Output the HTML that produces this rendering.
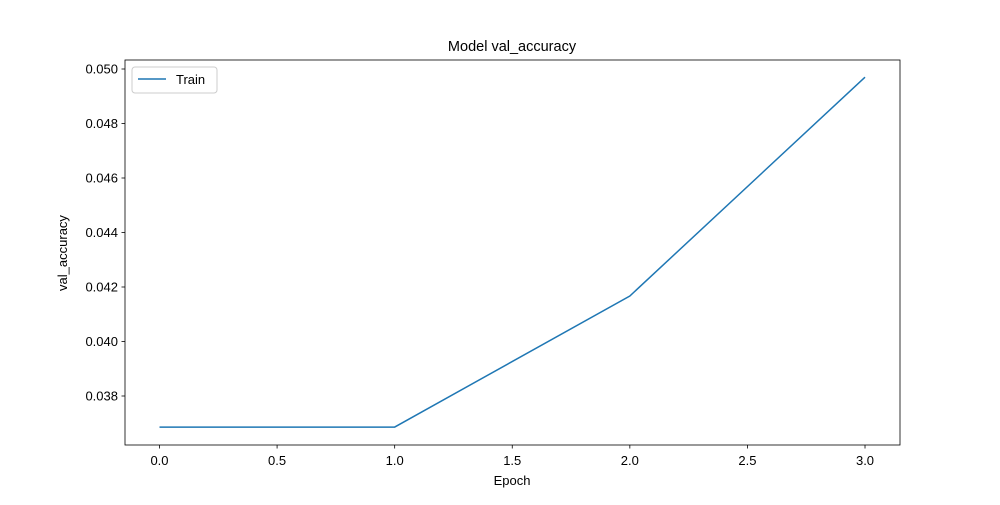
<!DOCTYPE html>
<html><head><meta charset="utf-8"><style>
body{margin:0;background:#fff;}
svg text{font-family:"Liberation Sans","DejaVu Sans",sans-serif;fill:#000;}
</style></head><body>
<svg id="chart" width="1000" height="500" viewBox="0 0 1000 500">
<rect width="1000" height="500" fill="#fff"/>
<text x="512" y="51" font-size="14.5" text-anchor="middle">Model val_accuracy</text>
<g id="xt"></g>
<g id="yt"></g>
<path id="line" fill="none" stroke="#1f77b4" stroke-width="1.5"/>
<rect x="125" y="60" width="775" height="385" fill="none" stroke="#000" stroke-width="0.8"/>
<text x="512" y="485" font-size="13" text-anchor="middle">Epoch</text>
<text transform="translate(67,253) rotate(-90)" font-size="13" text-anchor="middle">val_accuracy</text>
<g>
<rect x="132" y="67" width="85" height="26" rx="3" fill="#fff" stroke="#ccc"/>
<line x1="138" y1="79" x2="166" y2="79" stroke="#1f77b4" stroke-width="1.5"/>
<text x="176" y="84" font-size="13">Train</text>
</g>
</svg>
<script>
const epochs=[0,1,2,3];
const values=[0.03686,0.03686,0.04167,0.04970];
const xTicks=[0,0.5,1,1.5,2,2.5,3];
const xTickLabels=["0.0","0.5","1.0","1.5","2.0","2.5","3.0"];
const yTicks=[0.038,0.040,0.042,0.044,0.046,0.048,0.050];
const yTickLabels=["0.038","0.040","0.042","0.044","0.046","0.048","0.050"];
const ns="http://www.w3.org/2000/svg";
function xs(v){return 159.5+v*235.17;}
function ys(v){return 396-(v-0.038)/0.002*54.5;}
function mk(t,a,p,txt){const e=document.createElementNS(ns,t);for(const k in a)e.setAttribute(k,a[k]);if(txt!=null)e.textContent=txt;p.appendChild(e);return e;}
const xg=document.getElementById('xt'),yg=document.getElementById('yt');
xTicks.forEach((v,i)=>{const x=xs(v);
const t=mk('line',{x1:x,x2:x,y1:445,y2:448.5,stroke:'#000','stroke-width':0.8},xg);


const l=mk('text',{x:x,y:465,'font-size':13,'text-anchor':'middle'},xg,xTickLabels[i]);

});
yTicks.forEach((v,i)=>{const y=ys(v);
const t=mk('line',{x1:121.5,x2:125,y1:y,y2:y,stroke:'#000','stroke-width':0.8},yg);


const l=mk('text',{x:118,y:y+4.5,'font-size':13,'text-anchor':'end'},yg,yTickLabels[i]);

});
document.getElementById('line').setAttribute('d',epochs.map((e,i)=>(i?'L':'M')+xs(e)+','+ys(values[i])).join(' '));
</script>
</body></html>
